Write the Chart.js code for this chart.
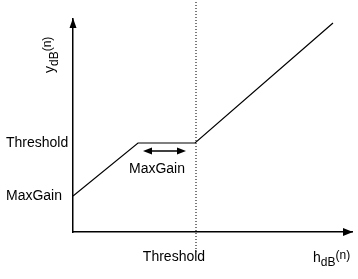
<!DOCTYPE html>
<html lang="en">
<head>
<meta charset="UTF-8">
<title>compressor curve</title>
<script src="https://cdn.jsdelivr.net/npm/chart.js"></script>
<style>
  html, body { margin: 0; padding: 0; background: #fff; }
</style>
</head>
<body>
<canvas id="myChart" width="358" height="279"></canvas>
<script>
  // input / output level of the curve (arbitrary units)
  const curveX = [0, 65, 122, 260]
  const curveY = [36, 89, 89, 209]
  // dotted threshold marker
  const thresholdX = [123, 123]
  const thresholdY = [-20, 232]
  // tick labels
  const yTickValues = [36, 89]
  const yTickLabels = ['MaxGain', 'Threshold']
  const xTickValues = [101]
  const xTickLabels = ['Threshold']
  // the MaxGain double arrow
  const gainArrowX = [70, 113]
  const gainArrowY = [81, 81]
  const gainLabelAt = [84, 63]
  const gainLabel = 'MaxGain'

  const FONT = '"Liberation Sans", Arial, sans-serif'

  function sublabel(ctx, x, y, main, sub, sup) {
    ctx.textAlign = 'left'
    ctx.textBaseline = 'alphabetic'
    ctx.font = '14px ' + FONT
    ctx.fillText(main, x, y)
    x += ctx.measureText(main).width
    ctx.font = '12px ' + FONT
    ctx.fillText(sub, x, y + 4)
    x += ctx.measureText(sub).width
    ctx.fillText(sup, x, y - 3)
  }

  const extras = {
    id: 'extras',
    afterDraw(chart) {
      const ctx = chart.ctx
      const a = chart.chartArea
      const xs = chart.scales.x
      const ys = chart.scales.y
      ctx.save()
      ctx.fillStyle = '#000'
      ctx.strokeStyle = '#000'

      // axis arrow heads
      ctx.beginPath()
      ctx.moveTo(a.left, a.top - 1)
      ctx.lineTo(a.left - 3.5, a.top + 9)
      ctx.lineTo(a.left + 3.5, a.top + 9)
      ctx.closePath()
      ctx.fill()
      ctx.beginPath()
      ctx.moveTo(a.right + 1, a.bottom)
      ctx.lineTo(a.right - 9, a.bottom - 4)
      ctx.lineTo(a.right - 9, a.bottom + 4)
      ctx.closePath()
      ctx.fill()

      // double arrow
      const x1 = xs.getPixelForValue(gainArrowX[0])
      const x2 = xs.getPixelForValue(gainArrowX[1])
      const ay = ys.getPixelForValue(gainArrowY[0])
      ctx.lineWidth = 1.5
      ctx.beginPath()
      ctx.moveTo(x1 + 6, ay)
      ctx.lineTo(x2 - 6, ay)
      ctx.stroke()
      ctx.beginPath()
      ctx.moveTo(x1, ay)
      ctx.lineTo(x1 + 9, ay - 3.5)
      ctx.lineTo(x1 + 9, ay + 3.5)
      ctx.closePath()
      ctx.fill()
      ctx.beginPath()
      ctx.moveTo(x2, ay)
      ctx.lineTo(x2 - 9, ay - 3.5)
      ctx.lineTo(x2 - 9, ay + 3.5)
      ctx.closePath()
      ctx.fill()

      ctx.font = '14px ' + FONT
      ctx.textAlign = 'center'
      ctx.textBaseline = 'middle'
      ctx.fillText(gainLabel, xs.getPixelForValue(gainLabelAt[0]), ys.getPixelForValue(gainLabelAt[1]))

      // axis titles
      sublabel(ctx, 313, 262, 'h', 'dB', '(n)')
      ctx.translate(54, 73)
      ctx.rotate(-Math.PI / 2)
      sublabel(ctx, 0, 0, 'y', 'dB', '(n)')
      ctx.restore()
    }
  }

  new Chart(document.getElementById('myChart'), {
    type: 'line',
    data: {
      datasets: [{
        data: curveX.map((x, i) => ({x: x, y: curveY[i]})),
        borderColor: '#000',
        borderWidth: 1.2,
        pointRadius: 0,
        tension: 0
      }, {
        data: thresholdX.map((x, i) => ({x: x, y: thresholdY[i]})),
        borderColor: '#222',
        borderWidth: 1.2,
        borderDash: [1, 2],
        pointRadius: 0,
        clip: false
      }]
    },
    plugins: [extras],
    options: {
      responsive: false,
      animation: false,
      events: [],
      layout: { padding: { top: 19, right: 6, left: 6, bottom: 0 } },
      plugins: { legend: { display: false }, tooltip: { enabled: false } },
      scales: {
        x: {
          type: 'linear',
          min: 0,
          max: 279,
          grid: { display: false, drawTicks: false },
          border: { display: true, color: '#000', width: 1.5 },
          afterBuildTicks: s => { s.ticks = xTickValues.map(v => ({value: v})) },
          afterFit: s => { s.height = 47 },
          ticks: {
            padding: 17,
            color: '#000',
            font: { family: FONT, size: 14 },
            maxRotation: 0,
            autoSkip: false,
            callback: (v, i) => xTickLabels[i]
          }
        },
        y: {
          type: 'linear',
          min: 0,
          max: 213,
          grid: { display: false, drawTicks: false },
          border: { display: true, color: '#000', width: 1.5 },
          afterBuildTicks: s => { s.ticks = yTickValues.map(v => ({value: v})) },
          afterFit: s => { s.width = 67 },
          ticks: {
            crossAlign: 'far',
            color: '#000',
            font: { family: FONT, size: 14 },
            autoSkip: false,
            callback: (v, i) => yTickLabels[i]
          }
        }
      }
    }
  })
</script>
</body>
</html>
